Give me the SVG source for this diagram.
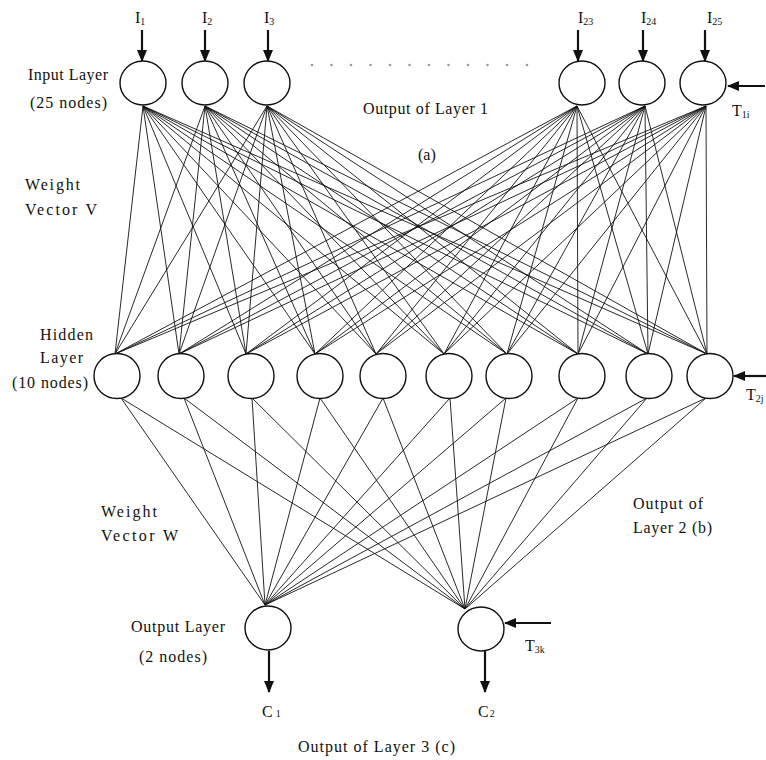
<svg xmlns="http://www.w3.org/2000/svg" width="766" height="760" viewBox="0 0 766 760">
<style>
text{font-family:"Liberation Serif","Times New Roman",serif;fill:#111;font-size:16px}
.sub{font-size:10px}
.node{fill:#fff;stroke:#111;stroke-width:1.4}
.w line{stroke:#111;stroke-width:0.9}
.arr{stroke:#111;stroke-width:2.2;marker-end:url(#ah)}
.dot{fill:#999}
</style>
<defs>
<marker id="ah" markerUnits="userSpaceOnUse" markerWidth="12" markerHeight="10" refX="11" refY="5" orient="auto">
<path d="M0,0 L12,5 L0,10 z" fill="#111"/>
</marker>
</defs>
<rect width="766" height="760" fill="#fff"/>
<g id="connectors">
<g class="w" id="weights-V">
<line x1="143" y1="106" x2="115" y2="354"/><line x1="143" y1="106" x2="179" y2="354"/><line x1="143" y1="106" x2="246" y2="354"/><line x1="143" y1="106" x2="315" y2="354"/><line x1="143" y1="106" x2="376" y2="354"/><line x1="143" y1="106" x2="444" y2="354"/><line x1="143" y1="106" x2="507" y2="354"/><line x1="143" y1="106" x2="578" y2="354"/><line x1="143" y1="106" x2="648" y2="354"/><line x1="143" y1="106" x2="707" y2="354"/>
<line x1="205" y1="106" x2="115" y2="354"/><line x1="205" y1="106" x2="179" y2="354"/><line x1="205" y1="106" x2="246" y2="354"/><line x1="205" y1="106" x2="315" y2="354"/><line x1="205" y1="106" x2="376" y2="354"/><line x1="205" y1="106" x2="444" y2="354"/><line x1="205" y1="106" x2="507" y2="354"/><line x1="205" y1="106" x2="578" y2="354"/><line x1="205" y1="106" x2="648" y2="354"/><line x1="205" y1="106" x2="707" y2="354"/>
<line x1="267" y1="106" x2="115" y2="354"/><line x1="267" y1="106" x2="179" y2="354"/><line x1="267" y1="106" x2="246" y2="354"/><line x1="267" y1="106" x2="315" y2="354"/><line x1="267" y1="106" x2="376" y2="354"/><line x1="267" y1="106" x2="444" y2="354"/><line x1="267" y1="106" x2="507" y2="354"/><line x1="267" y1="106" x2="578" y2="354"/><line x1="267" y1="106" x2="648" y2="354"/><line x1="267" y1="106" x2="707" y2="354"/>
<line x1="577" y1="106" x2="115" y2="354"/><line x1="577" y1="106" x2="179" y2="354"/><line x1="577" y1="106" x2="246" y2="354"/><line x1="577" y1="106" x2="315" y2="354"/><line x1="577" y1="106" x2="376" y2="354"/><line x1="577" y1="106" x2="444" y2="354"/><line x1="577" y1="106" x2="507" y2="354"/><line x1="577" y1="106" x2="578" y2="354"/><line x1="577" y1="106" x2="648" y2="354"/><line x1="577" y1="106" x2="707" y2="354"/>
<line x1="645" y1="106" x2="115" y2="354"/><line x1="645" y1="106" x2="179" y2="354"/><line x1="645" y1="106" x2="246" y2="354"/><line x1="645" y1="106" x2="315" y2="354"/><line x1="645" y1="106" x2="376" y2="354"/><line x1="645" y1="106" x2="444" y2="354"/><line x1="645" y1="106" x2="507" y2="354"/><line x1="645" y1="106" x2="578" y2="354"/><line x1="645" y1="106" x2="648" y2="354"/><line x1="645" y1="106" x2="707" y2="354"/>
<line x1="706" y1="106" x2="115" y2="354"/><line x1="706" y1="106" x2="179" y2="354"/><line x1="706" y1="106" x2="246" y2="354"/><line x1="706" y1="106" x2="315" y2="354"/><line x1="706" y1="106" x2="376" y2="354"/><line x1="706" y1="106" x2="444" y2="354"/><line x1="706" y1="106" x2="507" y2="354"/><line x1="706" y1="106" x2="578" y2="354"/><line x1="706" y1="106" x2="648" y2="354"/><line x1="706" y1="106" x2="707" y2="354"/>
</g>
<g class="w" id="weights-W">
<line x1="121" y1="398" x2="265" y2="605"/><line x1="121" y1="398" x2="465" y2="609"/>
<line x1="184" y1="398" x2="265" y2="605"/><line x1="184" y1="398" x2="465" y2="609"/>
<line x1="252" y1="398" x2="265" y2="605"/><line x1="252" y1="398" x2="465" y2="609"/>
<line x1="320" y1="398" x2="265" y2="605"/><line x1="320" y1="398" x2="465" y2="609"/>
<line x1="383" y1="398" x2="265" y2="605"/><line x1="383" y1="398" x2="465" y2="609"/>
<line x1="450" y1="398" x2="265" y2="605"/><line x1="450" y1="398" x2="465" y2="609"/>
<line x1="506" y1="398" x2="265" y2="605"/><line x1="506" y1="398" x2="465" y2="609"/>
<line x1="578" y1="398" x2="265" y2="605"/><line x1="578" y1="398" x2="465" y2="609"/>
<line x1="647" y1="398" x2="265" y2="605"/><line x1="647" y1="398" x2="465" y2="609"/>
<line x1="706" y1="398" x2="265" y2="605"/><line x1="706" y1="398" x2="465" y2="609"/>
</g>
<g id="io-arrows">
<line class="arr" x1="142" y1="30" x2="142" y2="61"/>
<line class="arr" x1="205" y1="30" x2="205" y2="61"/>
<line class="arr" x1="268" y1="30" x2="268" y2="61"/>
<line class="arr" x1="578" y1="30" x2="578" y2="61"/>
<line class="arr" x1="643" y1="30" x2="643" y2="61"/>
<line class="arr" x1="705" y1="30" x2="705" y2="61"/>
<line class="arr" x1="765" y1="86" x2="728" y2="86"/>
<line class="arr" x1="766" y1="376" x2="734" y2="376"/>
<line class="arr" x1="551" y1="623" x2="505" y2="623"/>
<line class="arr" x1="269" y1="651" x2="269" y2="692"/>
<line class="arr" x1="485" y1="651" x2="485" y2="692"/>
</g>
</g>
<g id="input-layer">
<g id="in1"><ellipse class="node" cx="143" cy="83" rx="23" ry="22"/><text x="135" y="23">I<tspan class="sub" dy="2">1</tspan></text></g>
<g id="in2"><ellipse class="node" cx="205" cy="83" rx="23" ry="22"/><text x="202" y="23">I<tspan class="sub" dy="2">2</tspan></text></g>
<g id="in3"><ellipse class="node" cx="267" cy="83" rx="23" ry="22"/><text x="264" y="23">I<tspan class="sub" dy="2">3</tspan></text></g>
<g id="in23"><ellipse class="node" cx="582" cy="83" rx="23" ry="22"/><text x="578" y="23">I<tspan class="sub" dy="2">23</tspan></text></g>
<g id="in24"><ellipse class="node" cx="642" cy="83" rx="23" ry="22"/><text x="641" y="23">I<tspan class="sub" dy="2">24</tspan></text></g>
<g id="in25"><ellipse class="node" cx="703" cy="83" rx="23" ry="22"/><text x="707" y="23">I<tspan class="sub" dy="2">25</tspan></text></g>
</g>
<g id="ellipsis-dots">
<circle class="dot" cx="312" cy="65" r="1.3"/><circle class="dot" cx="331.5" cy="65" r="1.3"/><circle class="dot" cx="351" cy="65" r="1.3"/><circle class="dot" cx="370.5" cy="65" r="1.3"/><circle class="dot" cx="390" cy="65" r="1.3"/><circle class="dot" cx="409.5" cy="65" r="1.3"/><circle class="dot" cx="429" cy="65" r="1.3"/><circle class="dot" cx="448.5" cy="65" r="1.3"/><circle class="dot" cx="468" cy="65" r="1.3"/><circle class="dot" cx="487.5" cy="65" r="1.3"/><circle class="dot" cx="507" cy="65" r="1.3"/><circle class="dot" cx="527" cy="65" r="1.3"/>
</g>
<g id="hidden-layer">
<g id="h1"><ellipse class="node" cx="117" cy="376" rx="23" ry="22.5"/></g>
<g id="h2"><ellipse class="node" cx="181" cy="376" rx="23" ry="22.5"/></g>
<g id="h3"><ellipse class="node" cx="251" cy="376" rx="23" ry="22.5"/></g>
<g id="h4"><ellipse class="node" cx="320" cy="376" rx="23" ry="22.5"/></g>
<g id="h5"><ellipse class="node" cx="383" cy="376" rx="23" ry="22.5"/></g>
<g id="h6"><ellipse class="node" cx="449" cy="376" rx="23" ry="22.5"/></g>
<g id="h7"><ellipse class="node" cx="509" cy="376" rx="23" ry="22.5"/></g>
<g id="h8"><ellipse class="node" cx="582" cy="376" rx="23" ry="22.5"/></g>
<g id="h9"><ellipse class="node" cx="649" cy="376" rx="23" ry="22.5"/></g>
<g id="h10"><ellipse class="node" cx="710" cy="376" rx="23" ry="22.5"/></g>
</g>
<g id="output-layer">
<g id="out1"><ellipse class="node" cx="268" cy="628" rx="23" ry="22"/><text x="262" y="717">C<tspan class="sub" dx="3" font-size="11">1</tspan></text></g>
<g id="out2"><ellipse class="node" cx="481" cy="629" rx="23" ry="22"/><text x="478" y="717">C<tspan class="sub" dx="1" font-size="11">2</tspan></text></g>
</g>
<g id="labels">
<text x="28" y="80" textLength="80">Input Layer</text>
<text x="30" y="108" textLength="77">(25 nodes)</text>
<text x="732" y="116" font-size="15">T<tspan class="sub" dy="2">1i</tspan></text>
<text x="363" y="114" textLength="125">Output of Layer 1</text>
<text x="418" y="160">(a)</text>
<text x="25" y="190" textLength="55">Weight</text>
<text x="25" y="215" textLength="72">Vector V</text>
<text x="40" y="340" textLength="53">Hidden</text>
<text x="40" y="363" textLength="43">Layer</text>
<text x="12" y="388" textLength="76">(10 nodes)</text>
<text x="746" y="400" font-size="15">T<tspan class="sub" dy="2">2j</tspan></text>
<text x="101" y="517" textLength="56">Weight</text>
<text x="101" y="541" textLength="77">Vector W</text>
<text x="633" y="509" textLength="70">Output of</text>
<text x="633" y="533" textLength="79">Layer 2 (b)</text>
<text x="131" y="632" textLength="94">Output Layer</text>
<text x="139" y="662" textLength="68">(2 nodes)</text>
<text x="525" y="651" font-size="15">T<tspan class="sub" dy="2">3k</tspan></text>
<text x="298" y="752" textLength="157">Output of  Layer 3 (c)</text>
</g>
</svg>
